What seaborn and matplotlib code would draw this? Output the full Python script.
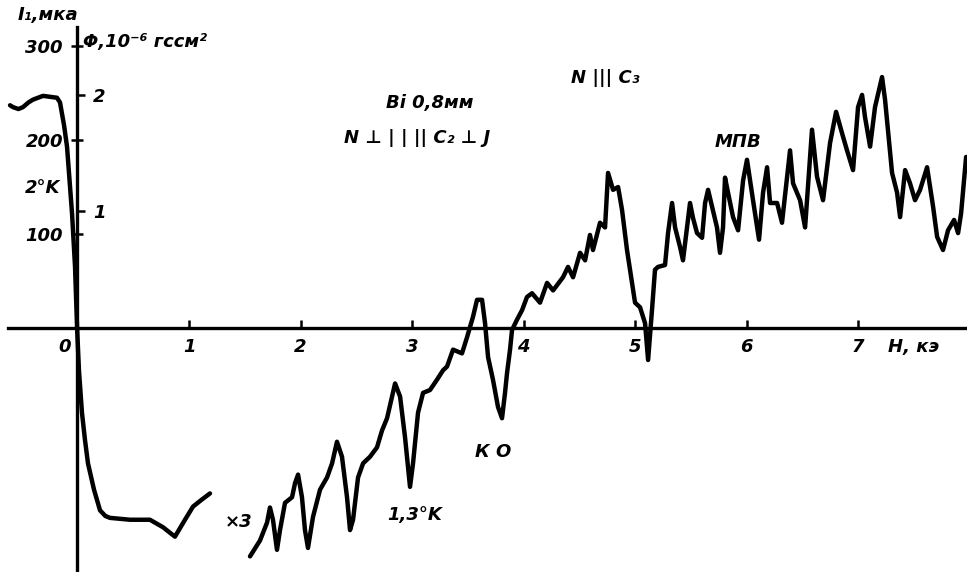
import matplotlib
matplotlib.use("Agg")
import matplotlib.pyplot as plt
import seaborn as sns
import numpy as np
import pandas as pd

# ---- data (H in kOe, I1 in мка) ----
h_2k = [-0.605, -0.578, -0.530, -0.489, -0.440, -0.399, -0.309, -0.184, -0.157, -0.121, -0.094,
        -0.049, -0.022, -0.004, 0.013, 0.040, 0.067, 0.094, 0.148, 0.202, 0.250, 0.291,
        0.471, 0.650, 0.767, 0.874, 0.964, 1.036, 1.110, 1.188]
i_2k = [237, 235, 233, 235, 240, 243, 247, 245, 240, 216, 193,
        122, 65, 1, -45, -90, -119, -144, -172, -194, -200, -202,
        -204, -204, -212, -222, -204, -190, -183, -176]

h_13k = [1.547, 1.637, 1.700, 1.726, 1.753, 1.789, 1.816, 1.861, 1.924, 1.951,
         1.978, 2.013, 2.040, 2.067, 2.112, 2.175, 2.238, 2.283, 2.327, 2.372,
         2.417, 2.444, 2.471, 2.516, 2.561, 2.623, 2.686, 2.731, 2.776, 2.848,
         2.893, 2.937, 2.982, 3.009, 3.054, 3.099, 3.161, 3.224, 3.278, 3.314,
         3.368, 3.448, 3.493, 3.547, 3.583, 3.628, 3.655, 3.682, 3.726, 3.771,
         3.807, 3.834, 3.852, 3.879, 3.897, 3.942, 3.987, 4.031, 4.076, 4.148,
         4.211, 4.265, 4.354, 4.399, 4.444, 4.507, 4.552, 4.596, 4.623, 4.686,
         4.731, 4.758, 4.803, 4.848, 4.883, 4.928, 4.973, 5.000, 5.045, 5.090,
         5.117, 5.152, 5.179, 5.206, 5.269, 5.296, 5.332, 5.359, 5.404, 5.430,
         5.466, 5.493, 5.520, 5.556, 5.601, 5.628, 5.655, 5.691, 5.735, 5.762,
         5.789, 5.807, 5.834, 5.879, 5.924, 5.969, 6.004, 6.058, 6.112, 6.148,
         6.184, 6.211, 6.274, 6.318, 6.390, 6.417, 6.480, 6.525, 6.587, 6.632,
         6.686, 6.749, 6.803, 6.857, 6.901, 6.955, 7.000, 7.036, 7.063, 7.108,
         7.152, 7.215, 7.242, 7.305, 7.350, 7.377, 7.422, 7.466, 7.511, 7.556,
         7.619, 7.646, 7.673, 7.709, 7.762, 7.807, 7.861, 7.897, 7.924, 7.969]
i_13k = [-243, -226, -207, -191, -204, -236, -215, -186, -180, -165,
         -156, -180, -215, -234, -201, -172, -159, -144, -121, -137,
         -180, -215, -204, -159, -144, -137, -127, -109, -96, -59,
         -73, -116, -169, -144, -90, -69, -66, -55, -45, -41,
         -23, -27, -10, 12, 30, 30, 5, -31, -55, -84,
         -96, -69, -48, -23, -2, 9, 19, 33, 37, 27,
         48, 40, 54, 65, 54, 80, 72, 99, 83, 112,
         107, 165, 147, 150, 126, 83, 48, 27, 22, 5,
         -34, 19, 62, 65, 67, 101, 133, 107, 86, 72,
         107, 133, 117, 101, 96, 133, 147, 129, 107, 80,
         107, 160, 144, 118, 104, 157, 179, 136, 94, 144,
         171, 133, 133, 112, 189, 154, 136, 107, 211, 161,
         136, 197, 230, 207, 189, 168, 235, 248, 224, 193,
         235, 267, 243, 165, 144, 118, 168, 154, 136, 147,
         171, 150, 129, 97, 83, 104, 115, 101, 122, 182]

h_ticks = [1, 2, 3, 4, 5, 6, 7]
i_ticks = [100, 200, 300]
phi_ticks = [1, 2]
i_per_phi = 124.0

df_2k = pd.DataFrame({"H": h_2k, "I": i_2k})
df_13k = pd.DataFrame({"H": h_13k, "I": i_13k})

sns.set_theme(style="white")
plt.rcParams["font.family"] = ["DejaVu Sans"]
plt.rcParams["font.style"] = "italic"
plt.rcParams["font.weight"] = "bold"

fig = plt.figure(figsize=(9.67, 5.72), dpi=100)
ax = fig.add_axes([0, 0, 1, 1])
ax.set_facecolor("white")

lw = 3.2
for d in (df_2k, df_13k):
    sns.lineplot(data=d, x="H", y="I", ax=ax, color="black", lw=lw,
                 sort=False, estimator=None,
                 solid_joinstyle="round", solid_capstyle="round")

xmin, xmax = -0.695, 7.977
ymin, ymax = -259.6, 349.0
ax.set_xlim(xmin, xmax)
ax.set_ylim(ymin, ymax)
ax.set_xlabel("")
ax.set_ylabel("")

for s in ["top", "right"]:
    ax.spines[s].set_visible(False)
ax.spines["left"].set_position(("data", 0))
ax.spines["bottom"].set_position(("data", 0))
ax.spines["left"].set_bounds(ymin, 320)
ax.spines["bottom"].set_bounds(-0.623, xmax)
for s in ["left", "bottom"]:
    ax.spines[s].set_linewidth(2.4)
    ax.spines[s].set_color("black")

ax.set_xticks(h_ticks)
ax.set_xticklabels([str(t) for t in h_ticks])
ax.set_yticks(i_ticks)
ax.set_yticklabels([str(t) for t in i_ticks])
ax.tick_params(axis="x", direction="in", length=6, width=1.8, pad=7,
               labelsize=13, colors="black", bottom=True)
ax.tick_params(axis="y", direction="inout", length=9, width=1.8, pad=6,
               labelsize=13, colors="black", left=True)

# second scale (Φ)
ax2 = ax.twinx()
ax2.set_ylim(ymin / i_per_phi, ymax / i_per_phi)
for s in ["top", "left", "bottom", "right"]:
    ax2.spines[s].set_visible(False)
ax2.spines["right"].set_position(("data", 0))
ax2.set_yticks(phi_ticks)
ax2.set_yticklabels([str(t) for t in phi_ticks])
ax2.tick_params(axis="y", direction="out", length=6, width=1.8, pad=5,
                labelsize=13, colors="black", right=True)
ax2.grid(False)
ax.grid(False)

fs = 13
kw = dict(color="black", fontsize=fs, fontweight="bold", fontstyle="italic")
ax.text(-0.265, 333, "I₁,мка", ha="center", va="center", **kw)
ax.text(0.05, 304, "Φ,10⁻⁶ гссм²", ha="left", va="center", **kw)
ax.text(-0.31, 149, "2°K", ha="center", va="center", **kw)
ax.text(-0.12, -20, "0", ha="center", va="center", **kw)
ax.text(7.27, -20, "H, кэ", ha="left", va="center", **kw)
ax.text(3.16, 239, "Bi 0,8мм", ha="center", va="center", **kw)
ax.text(3.05, 202, "N ⊥ | | || C₂ ⊥ J", ha="center", va="center", **kw)
ax.text(4.73, 266, "N ||| C₃", ha="center", va="center", **kw)
ax.text(5.92, 198, "МПВ", ha="center", va="center", **kw)
ax.text(3.73, -132, "К О", ha="center", va="center", **kw)
ax.text(3.02, -199, "1,3°K", ha="center", va="center", **kw)
ax.text(1.44, -206, "×3", ha="center", va="center", **kw)

fig.savefig("out.png", dpi=100, facecolor="white")
